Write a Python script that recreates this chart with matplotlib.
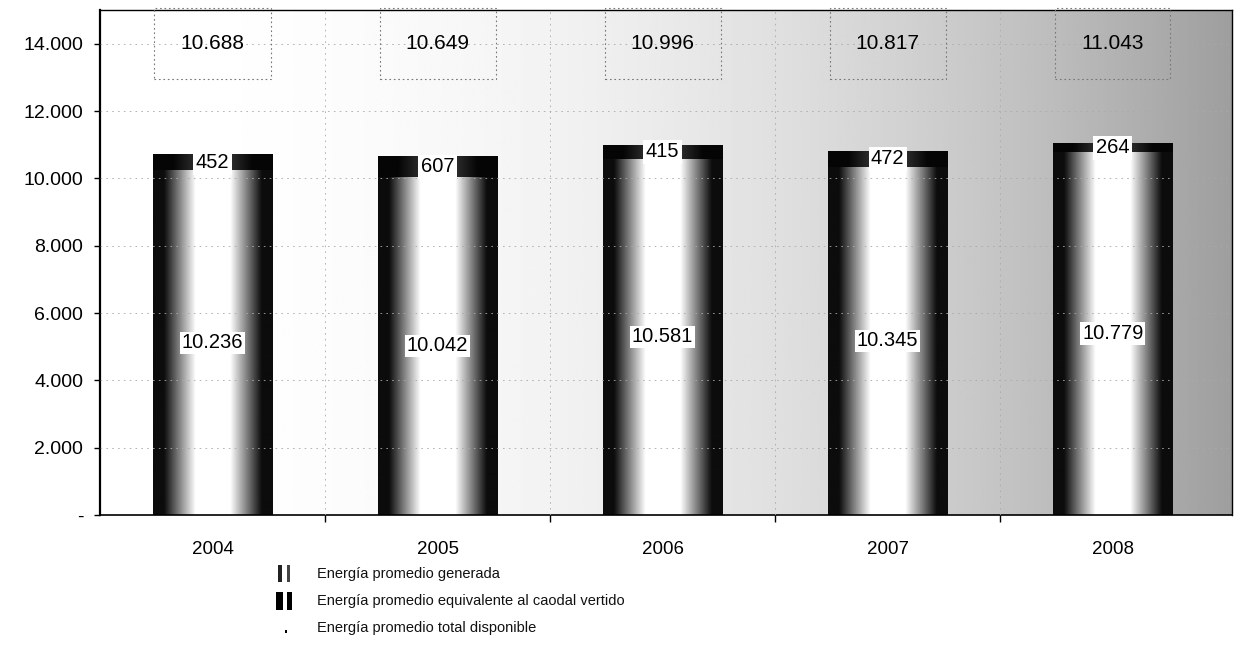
import numpy as np
import matplotlib
matplotlib.use("Agg")
import matplotlib.pyplot as plt
from matplotlib.patches import Rectangle
from matplotlib.ticker import FuncFormatter, FixedLocator

# ---- data ----
years = ["2004", "2005", "2006", "2007", "2008"]
generada = [10236, 10042, 10581, 10345, 10779]
vertido = [452, 607, 415, 472, 264]
total = [10688, 10649, 10996, 10817, 11043]
yticks = [0, 2000, 4000, 6000, 8000, 10000, 12000, 14000]
legend_labels = ["Energía promedio generada",
                 "Energía promedio equivalente al caodal vertido",
                 "Energía promedio total disponible"]

W, H = 1236, 662


def fmt(v, pos=None):
    if v == 0:
        return "-"
    return f"{v:,.0f}".replace(",", ".")


fig = plt.figure(figsize=(W / 100, H / 100), dpi=100)
fig.patch.set_facecolor("white")
ax = fig.add_axes([100 / W, 1 - 515 / H, 1132 / W, 505 / H])
XL = (-0.5, 4.53)
YL = (0, 15000)

# background gradient (white on the left, grey to the right)
xs = np.linspace(0, 1, 500)
bg = 1 - 0.38 * xs ** 2.2
ax.imshow(bg[None, :], cmap="gray", vmin=0, vmax=1, extent=[XL[0], XL[1], YL[0], YL[1]],
          aspect="auto", zorder=0, interpolation="bilinear")

x = np.arange(len(years))
bw = 0.53
b1 = ax.bar(x, generada, width=bw, color="none", edgecolor="none", zorder=2)
b2 = ax.bar(x, vertido, bottom=generada, width=bw, color="none", edgecolor="none", zorder=2)

t = np.linspace(0, 1, 300)
d = np.clip(np.abs(2 * t - 1) * 1.9 - 0.55, 0, 1)
prof_gen = 1 - 0.95 * d
prof_ver = 0.3 - 0.28 * np.clip(np.abs(2 * t - 1) * 1.5, 0, 1)

for bars, prof in ((b1, prof_gen), (b2, prof_ver)):
    for p in bars:
        x0, y0, w, h = p.get_x(), p.get_y(), p.get_width(), p.get_height()
        ax.imshow(prof[None, :], cmap="gray", vmin=0, vmax=1,
                  extent=[x0, x0 + w, y0, y0 + h], aspect="auto", zorder=2,
                  interpolation="bilinear")

# labels
for i in range(len(years)):
    ax.text(x[i], generada[i] / 2, fmt(generada[i]), ha="center", va="center",
            fontsize=14.5, family="Liberation Sans", zorder=4,
            bbox=dict(boxstyle="square,pad=0.08", fc="white", ec="none"))
    ax.text(x[i], generada[i] + vertido[i] / 2, fmt(vertido[i]), ha="center", va="center",
            fontsize=14.5, family="Liberation Sans", zorder=4,
            bbox=dict(boxstyle="square,pad=0.12", fc="white", ec="none"))
    ax.text(x[i], 14000, fmt(total[i]), ha="center", va="center",
            fontsize=15, family="Liberation Sans", zorder=4,
            bbox=dict(boxstyle="square,pad=1.25", fc="none", ec="#777777",
                      ls=(0, (1.5, 2.5)), lw=0.8))

ax.set_xlim(*XL)
ax.set_ylim(*YL)

ax.yaxis.set_major_locator(FixedLocator(yticks))
ax.yaxis.set_major_formatter(FuncFormatter(fmt))
ax.set_xticks(x)
ax.set_xticklabels(years)
ax.xaxis.set_minor_locator(FixedLocator([0.5, 1.5, 2.5, 3.5]))

ax.tick_params(axis="y", length=4, width=1, labelsize=14, pad=8)
ax.tick_params(axis="x", which="major", length=0, labelsize=13.5, pad=19)
ax.tick_params(axis="x", which="minor", length=5, width=1)
for lab in ax.get_xticklabels() + ax.get_yticklabels():
    lab.set_family("Liberation Sans")

ax.grid(True, axis="y", color="#aaaaaa", lw=0.6, ls=(0, (2, 5)), zorder=1)
ax.grid(True, axis="x", which="minor", color="#aaaaaa", lw=0.6, ls=(0, (2, 5)), zorder=1)
ax.set_axisbelow(False)

for s in ["left", "bottom", "top", "right"]:
    ax.spines[s].set_color("black")
ax.spines["left"].set_linewidth(1.6)
ax.spines["bottom"].set_linewidth(1.2)
ax.spines["top"].set_linewidth(1.0)
ax.spines["right"].set_linewidth(1.0)

# legend (drawn manually below the chart)
rows_y = [574, 601, 628]


def frect(px, py, pw, ph, color):
    fig.patches.append(Rectangle((px / W, 1 - (py + ph) / H), pw / W, ph / H,
                                 transform=fig.transFigure, fc=color, ec="none"))


# generated: two thin marks
frect(278, rows_y[0] - 9, 4, 17, "#222222")
frect(287, rows_y[0] - 9, 3, 17, "#444444")
# spill: two thicker black marks
frect(276, rows_y[1] - 9, 7, 18, "black")
frect(287, rows_y[1] - 9, 5, 18, "black")
# total: a small dot
frect(285, rows_y[2] + 2, 2, 3, "black")

for ry, lab in zip(rows_y, legend_labels):
    fig.text(317 / W, 1 - ry / H, lab, va="center", ha="left", fontsize=10.5,
             family="Liberation Sans", color="#111111")

fig.savefig("out.png", dpi=100)
